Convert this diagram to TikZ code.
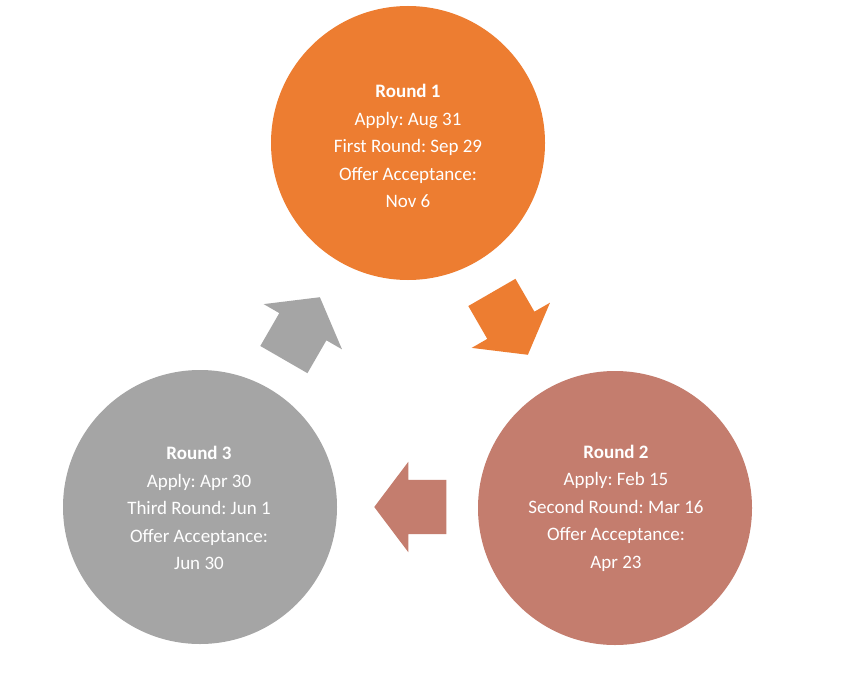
\documentclass[tikz,border=0pt]{standalone}
\usepackage{fontspec}
\setmainfont{Carlito}
\usetikzlibrary{shapes.arrows}
\definecolor{rorange}{HTML}{ED7D31}
\definecolor{rbrown}{HTML}{C47D6E}
\definecolor{rgray}{HTML}{A5A5A5}
\frenchspacing
\begin{document}
\begin{tikzpicture}[x=1pt,y=-1pt,
  roundcirc/.style={circle, minimum size=274pt, inner sep=0pt, draw=none},
  roundtext/.style={text=white, align=center, inner sep=0pt, font=\fontsize{19}{27.5}\selectfont},
  blockarrow/.style={single arrow, draw=none, minimum height=72pt, minimum width=0pt,
    inner xsep=0pt, inner ysep=27pt, single arrow head extend=18pt,
    single arrow tip angle=106, anchor=tip}]
\path[use as bounding box, fill=white] (0,0) rectangle (845,682);
% circles
\node[roundcirc, fill=rorange] (r1) at (408,143) {};
\node[roundcirc, fill=rbrown] (r2) at (615,508) {};
\node[roundcirc, fill=rgray] (r3) at (200,507) {};
% texts
\node[roundtext] (t1) at (408,146) {\textbf{Round 1}\\Apply: Aug 31\\First Round: Sep 29\\Offer Acceptance:\\Nov 6};
\node[roundtext] (t2) at (616,508) {\textbf{Round 2}\\Apply: Feb 15\\Second Round: Mar 16\\Offer Acceptance:\\Apr 23};
\node[roundtext] (t3) at (199,508) {\textbf{Round 3}\\Apply: Apr 30\\Third Round: Jun 1\\Offer Acceptance:\\Jun 30};
% block arrows
\node[blockarrow, fill=rorange, rotate=-60] (a12) at (528,355) {};
\node[blockarrow, fill=rbrown, rotate=180] (a23) at (374,507) {};
\node[blockarrow, fill=rgray, rotate=60] (a31) at (320,297) {};
\end{tikzpicture}
\end{document}
